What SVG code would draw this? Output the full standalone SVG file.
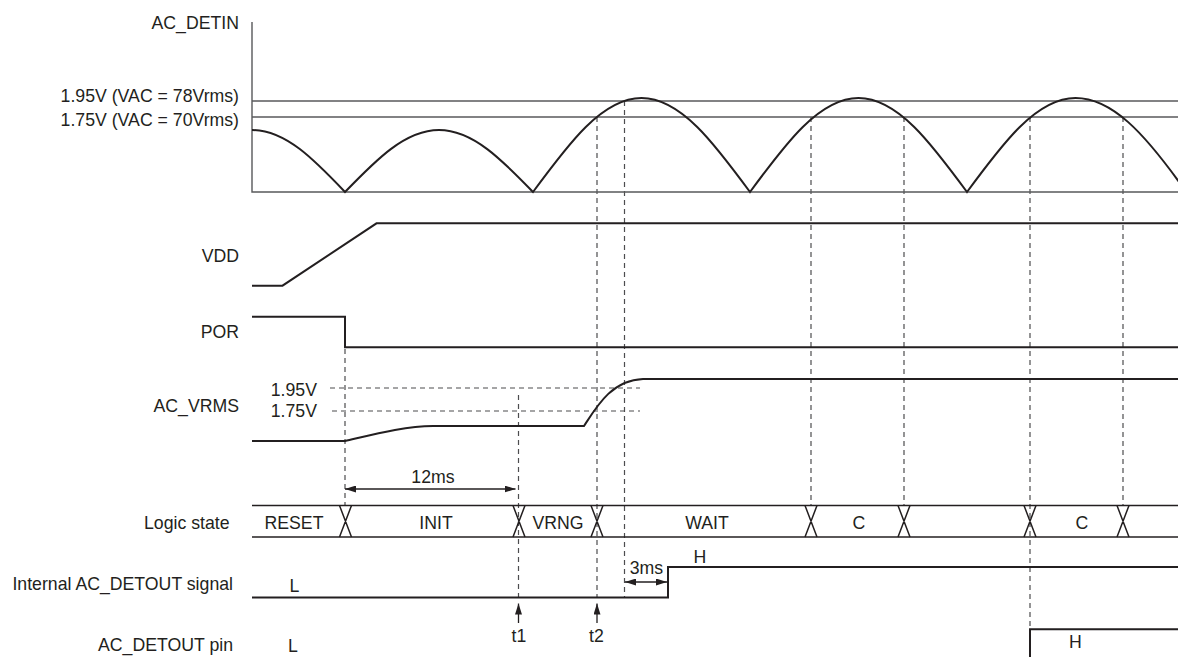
<svg xmlns="http://www.w3.org/2000/svg" width="1178" height="657" viewBox="0 0 1178 657">
<style>
text{font-family:"Liberation Sans",Arial,sans-serif;font-size:17.7px;fill:#231f20}
.r{text-anchor:end}
.m{text-anchor:middle}
.w{fill:none;stroke:#231f20;stroke-width:2}
.ax{fill:none;stroke:#58595b;stroke-width:1.4}
.d{fill:none;stroke:#4d4d4f;stroke-width:1.2;stroke-dasharray:5 4}
.x{fill:none;stroke:#231f20;stroke-width:1.5}
.ar{fill:none;stroke:#231f20;stroke-width:1.3}
</style>
<defs>
<marker id="ah" viewBox="0 0 11 7" refX="11" refY="3.5" markerWidth="11" markerHeight="7" markerUnits="userSpaceOnUse" orient="auto-start-reverse">
<path d="M0,0 L11,3.5 L0,7 z" fill="#231f20"/>
</marker>
</defs>

<g id="guides">
<line class="d" x1="345" y1="349" x2="345" y2="505"/>
<line class="d" x1="518.5" y1="395" x2="518.5" y2="597"/>
<line class="d" x1="597" y1="117" x2="597" y2="597"/>
<line class="d" x1="624.5" y1="101" x2="624.5" y2="597"/>
<line class="d" x1="811" y1="117" x2="811" y2="505"/>
<line class="d" x1="904" y1="117" x2="904" y2="505"/>
<line class="d" x1="1030" y1="117" x2="1030" y2="629"/>
<line class="d" x1="1123" y1="117" x2="1123" y2="505"/>
<line class="d" x1="330" y1="388" x2="640" y2="388"/>
<line class="d" x1="332" y1="411" x2="640" y2="411"/>
</g>

<g id="ac-detin">
<text class="r" x="239" y="28.7">AC_DETIN</text>
<text class="r" x="239" y="102">1.95V (VAC = 78Vrms)</text>
<text class="r" x="239" y="125.5">1.75V (VAC = 70Vrms)</text>
<polyline class="ax" points="252,22 252,192 1178,192"/>
<line class="ax" x1="252" y1="101" x2="1178" y2="101"/>
<line class="ax" x1="252" y1="117" x2="1178" y2="117"/>
<path class="w" d="M252,130 C285.7,130 314.7,160.2 345,192 C375.7,160.2 405,130 439,130 C473,130 502.3,160.2 533,192 C568.4,143.8 602.2,98 641.5,98 C680.8,98 714.6,143.8 750,192 C785.4,143.8 819.2,98 858.5,98 C897.8,98 931.6,143.8 967,192 C1002.4,143.8 1036.2,98 1075.5,98 C1112,98 1144,133 1182,186"/>
</g>

<g id="vdd">
<text class="r" x="239" y="261.7">VDD</text>
<polyline class="w" points="252,285.7 282.5,285.7 376.5,223.3 1178,223.3"/>
</g>

<g id="por">
<text class="r" x="239" y="338.3">POR</text>
<polyline class="w" points="252,316.7 345,316.7 345,347.3 1178,347.3"/>
</g>

<g id="ac-vrms">
<text class="r" x="239" y="412.3">AC_VRMS</text>
<text class="r" x="317" y="396">1.95V</text>
<text class="r" x="317" y="417">1.75V</text>
<path class="w" d="M252,441 H345 C375,434 405,426 433,426 H584 C597,406 612,380 643,379 H1178"/>
</g>

<g id="logic-state">
<text class="r" x="229.5" y="528.5">Logic state</text>
<line class="x" x1="252" y1="505.5" x2="1178" y2="505.5"/>
<line class="x" x1="252" y1="537" x2="1178" y2="537"/>
<path class="x" d="M339.5,505.5 L351.5,537 M351.5,505.5 L339.5,537 M513,505.5 L525,537 M525,505.5 L513,537 M591,505.5 L603,537 M603,505.5 L591,537 M805,505.5 L817,537 M817,505.5 L805,537 M898,505.5 L910,537 M910,505.5 L898,537 M1024,505.5 L1036,537 M1036,505.5 L1024,537 M1117,505.5 L1129,537 M1129,505.5 L1117,537"/>
<text class="m" x="294" y="528.5">RESET</text>
<text class="m" x="436" y="528.5">INIT</text>
<text class="m" x="558" y="528.5">VRNG</text>
<text class="m" x="707" y="528.5">WAIT</text>
<text class="m" x="859" y="528.5">C</text>
<text class="m" x="1082" y="528.5">C</text>
</g>

<g id="internal-detout">
<text class="r" x="233" y="589.5">Internal AC_DETOUT signal</text>
<text class="m" x="294.5" y="591.5">L</text>
<polyline class="w" points="252,597.5 668,597.5 668,567 1178,567"/>
<text class="m" x="700" y="563.3">H</text>
</g>

<g id="detout-pin">
<text class="r" x="233" y="651">AC_DETOUT pin</text>
<text class="m" x="293" y="651.5">L</text>
<polyline class="w" points="1030,660 1030,629.3 1178,629.3"/>
<text class="m" x="1075.5" y="648.3">H</text>
</g>

<g id="connectors">
<line class="ar" x1="345" y1="489" x2="515.5" y2="489" marker-start="url(#ah)" marker-end="url(#ah)"/>
<text class="m" x="433" y="483.3">12ms</text>
<line class="ar" x1="625" y1="582" x2="667" y2="582" stroke="#6d6e71" marker-start="url(#ah)" marker-end="url(#ah)"/>
<text class="m" x="646.5" y="574">3ms</text>
<line class="ar" x1="518.5" y1="623" x2="518.5" y2="603.5" marker-end="url(#ah)"/>
<text class="m" x="519" y="641.7">t1</text>
<line class="ar" x1="597" y1="623" x2="597" y2="603.5" marker-end="url(#ah)"/>
<text class="m" x="596.5" y="641.7">t2</text>
</g>
</svg>
